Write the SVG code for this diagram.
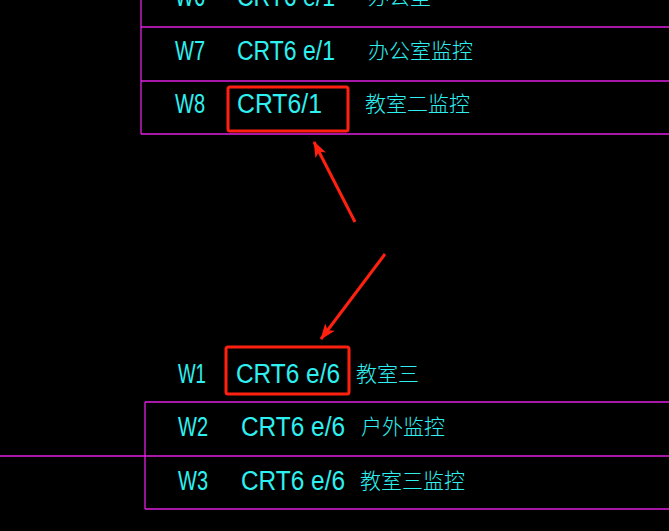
<svg xmlns="http://www.w3.org/2000/svg" width="669" height="531" viewBox="0 0 669 531">
<style>
text{font-family:"Liberation Sans","Noto Sans CJK SC",sans-serif;font-size:27px;fill:#2ef0f0;font-weight:normal}
text.c{font-size:21px;font-family:"Noto Sans CJK SC",sans-serif;font-weight:300}
.g{stroke:#e020e0;stroke-width:1.3;fill:none}
.r{stroke:#ff2010;stroke-width:3;fill:none}
.a{stroke:#ff2010;stroke-width:3;fill:none}
</style>
<defs><marker id="mh" markerWidth="16" markerHeight="12" refX="15" refY="6" orient="auto" markerUnits="userSpaceOnUse"><path d="M0,0L16,6L0,12L4,6Z" fill="#ff2010"/></marker></defs>
<rect width="669" height="531" fill="#000"/>
<g id="table-top">
<path class="g" d="M141,0V134M141,27H669M141,81H669M141,134H669"/>
<text x="175" y="6" textLength="30" lengthAdjust="spacingAndGlyphs">W6</text><text x="237" y="6" textLength="98" lengthAdjust="spacingAndGlyphs">CRT6 e/1</text><text class="c" x="368" y="4">办公室</text>
<text x="175" y="60" textLength="30" lengthAdjust="spacingAndGlyphs">W7</text><text x="237" y="60" textLength="98" lengthAdjust="spacingAndGlyphs">CRT6 e/1</text><text class="c" x="368" y="58">办公室监控</text>
<text x="175" y="113" textLength="30" lengthAdjust="spacingAndGlyphs">W8</text><text x="237" y="113" textLength="85" lengthAdjust="spacingAndGlyphs">CRT6/1</text><text class="c" x="365" y="111">教室二监控</text>
</g>
<g id="table-bottom">
<path class="g" d="M145,402V509M145,402H669M0,456H669M145,509H669"/>
<text x="178" y="383" textLength="28" lengthAdjust="spacingAndGlyphs">W1</text><text x="236" y="383" textLength="104" lengthAdjust="spacingAndGlyphs">CRT6 e/6</text><text class="c" x="356" y="381">教室三</text>
<text x="178" y="436" textLength="30" lengthAdjust="spacingAndGlyphs">W2</text><text x="241" y="436" textLength="104" lengthAdjust="spacingAndGlyphs">CRT6 e/6</text><text class="c" x="361" y="434">户外监控</text>
<text x="178" y="490" textLength="30" lengthAdjust="spacingAndGlyphs">W3</text><text x="241" y="490" textLength="104" lengthAdjust="spacingAndGlyphs">CRT6 e/6</text><text class="c" x="360" y="488">教室三监控</text>
</g>
<g id="highlight-1"><rect class="r" x="228" y="87" width="120" height="44" rx="2"/></g>
<g id="highlight-2"><rect class="r" x="226" y="347" width="123" height="47" rx="2"/></g>
<g id="connectors">
<line class="a" x1="355" y1="222" x2="314" y2="142" marker-end="url(#mh)"/>
<line class="a" x1="385" y1="254" x2="321" y2="339" marker-end="url(#mh)"/>
</g>
</svg>
